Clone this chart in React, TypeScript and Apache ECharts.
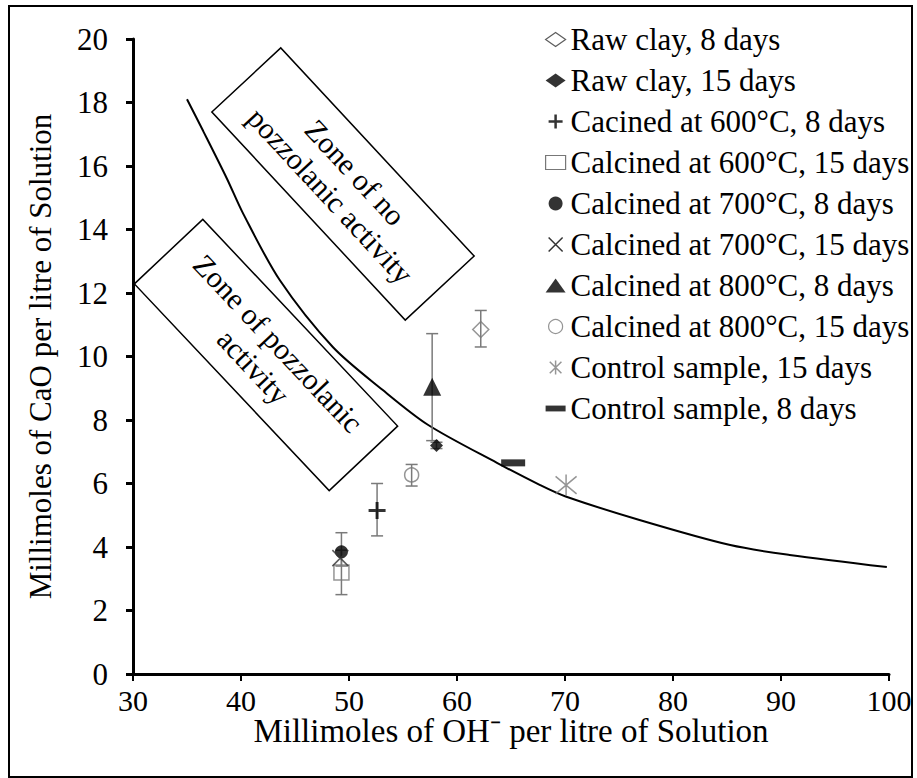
import React, { useEffect, useRef } from "react";
import * as echarts from "echarts";

// ---- data ----
const xTicks = [30, 40, 50, 60, 70, 80, 90, 100];
const yTicks = [0, 2, 4, 6, 8, 10, 12, 14, 16, 18, 20];

const curveX = [35, 36.5, 38.7, 40.2, 43.6, 48.5, 53.1, 57.3, 63.7, 67.7, 70, 76.9, 85.3, 90.8, 99.8];
const curveY = [18.1, 17.1, 15.6, 14.5, 12.4, 10.3, 8.95, 7.85, 6.65, 5.95, 5.6, 4.85, 4.06, 3.75, 3.37];

const seriesNames = [
  "Raw clay, 8 days",
  "Raw clay, 15 days",
  "Cacined at 600°C, 8 days",
  "Calcined at 600°C, 15 days",
  "Calcined at 700°C, 8 days",
  "Calcined at 700°C, 15 days",
  "Calcined at 800°C, 8 days",
  "Calcined at 800°C, 15 days",
  "Control sample, 15 days",
  "Control sample, 8 days",
];
const pointX = [62.2, 58.1, 52.6, 49.3, 49.3, 49.2, 57.7, 55.8, 70.1, 65.2];
const pointY = [10.85, 7.2, 5.15, 3.2, 3.85, 3.65, 9.05, 6.27, 5.95, 6.65];
const errLow: (number | null)[] = [10.3, 7.1, 4.35, 2.5, 3.4, null, 7.35, 5.92, null, null];
const errHigh: (number | null)[] = [11.45, 7.3, 6.0, 3.9, 4.45, null, 10.72, 6.6, null, null];

const zoneTexts = ["Zone of no\npozzolanic activity", "Zone of pozzolanic\nactivity"];

// ---- styles ----
const FONT = "Liberation Serif";
const SERIF = "serif";
const GRAY = "#7a7a7a";
const markerStyles: any[] = [
  { symbol: "diamond", size: 16, item: { color: "rgba(0,0,0,0)", borderColor: GRAY, borderWidth: 1.5 }, legend: { color: "#fff", borderColor: "#333", borderWidth: 1.2 } },
  { symbol: "diamond", size: 13, item: { color: "#000" }, legend: { color: "#000" } },
  { symbol: "path://M5,0L5,10M0,5L10,5", size: 17, item: { color: "rgba(0,0,0,0)", borderColor: "#000", borderWidth: 3 }, legend: { color: "rgba(0,0,0,0)", borderColor: "#000", borderWidth: 2.5 } },
  { symbol: "rect", size: 15, item: { color: "rgba(0,0,0,0)", borderColor: GRAY, borderWidth: 1.5 }, legend: { color: "#fff", borderColor: "#555", borderWidth: 1.2 } },
  { symbol: "circle", size: 13, item: { color: "#000" }, legend: { color: "#000" } },
  { symbol: "path://M0,0L10,10M10,0L0,10", size: 16, item: { color: "rgba(0,0,0,0)", borderColor: "#333", borderWidth: 1.5 }, legend: { color: "rgba(0,0,0,0)", borderColor: "#000", borderWidth: 1.5 } },
  { symbol: "triangle", size: 18, item: { color: "#000" }, legend: { color: "#000" } },
  { symbol: "circle", size: 14, item: { color: "rgba(0,0,0,0)", borderColor: GRAY, borderWidth: 1.5 }, legend: { color: "#fff", borderColor: GRAY, borderWidth: 1.2 } },
  { symbol: "path://M0,0L10,10M10,0L0,10M5,-1L5,11", size: 21, item: { color: "rgba(0,0,0,0)", borderColor: GRAY, borderWidth: 1.5 }, legend: { color: "rgba(0,0,0,0)", borderColor: GRAY, borderWidth: 1.5 } },
  { symbol: "path://M0,0L24,0L24,7L0,7Z", size: [24, 7], item: { color: "#000" }, legend: { color: "#000" } },
];

const zoneBoxes = [
  { cx: 343, cy: 184, rot: -0.822 },
  { cx: 266, cy: 355, rot: -0.815 },
];

export default function App() {
  const ref = useRef<HTMLDivElement>(null);
  useEffect(() => {
    if (!ref.current) return;
    const chart = echarts.init(ref.current, null, { renderer: "svg" });

    const errData = pointX
      .map((x, i) => (errLow[i] != null && errHigh[i] != null ? [x, errLow[i], errHigh[i]] : null))
      .filter((d) => d !== null);

    const scatterSeries = seriesNames.map((name, i) => ({
      name,
      type: "scatter",
      symbol: markerStyles[i].symbol,
      symbolSize: markerStyles[i].size,
      itemStyle: markerStyles[i].item,
      data: [[pointX[i], pointY[i]]],
      z: 5,
    }));

    const option: any = {
      animation: false,
      backgroundColor: "#fff",
      grid: { left: 133, right: 28, top: 39, bottom: 104 },
      xAxis: {
        type: "value",
        min: xTicks[0],
        max: xTicks[xTicks.length - 1],
        interval: 10,
        name: "Millimoles of OH⁻ per litre of Solution",
        nameLocation: "middle",
        nameGap: 40,
        nameMoveOverlap: false,
        nameTextStyle: { fontFamily: FONT, fontSize: 33, color: "#000" },
        axisLine: { lineStyle: { color: "#000", width: 3 } },
        axisTick: { show: true, inside: false, length: 7, lineStyle: { color: "#000", width: 2 } },
        axisLabel: { fontFamily: SERIF, fontSize: 30, color: "#000", margin: 11 },
        splitLine: { show: false },
      },
      yAxis: {
        type: "value",
        min: yTicks[0],
        max: yTicks[yTicks.length - 1],
        interval: 2,
        name: "Millimoles of CaO per litre of Solution",
        nameLocation: "middle",
        nameGap: 77,
        nameMoveOverlap: false,
        nameTextStyle: { fontFamily: FONT, fontSize: 31, color: "#000" },
        axisLine: { show: true, lineStyle: { color: "#000", width: 3 } },
        axisTick: { show: true, inside: false, length: 7, lineStyle: { color: "#000", width: 3 } },
        axisLabel: { fontFamily: SERIF, fontSize: 31, color: "#000", margin: 25 },
        splitLine: { show: false },
      },
      legend: {
        orient: "vertical",
        left: 540,
        top: 19,
        itemWidth: 20,
        itemHeight: 14,
        itemGap: 10,
        textStyle: { fontFamily: SERIF, fontSize: 31, color: "#000", lineHeight: 31 },
        data: seriesNames.map((name, i) => ({
          name,
          icon: markerStyles[i].symbol,
          itemStyle: markerStyles[i].legend,
        })),
        selectedMode: false,
      },
      graphic: [
        {
          type: "rect",
          shape: { x: 9, y: 6, width: 903, height: 771 },
          style: { fill: "none", stroke: "#000", lineWidth: 2 },
          z: 100,
        },
        ...zoneBoxes.map((b, i) => ({
          type: "group",
          x: b.cx,
          y: b.cy,
          rotation: b.rot,
          z: 50,
          children: [
            {
              type: "rect",
              shape: { x: -142, y: -47, width: 284, height: 94 },
              style: { fill: "#fff", stroke: "#000", lineWidth: 1.5 },
            },
            {
              type: "text",
              x: 0,
              y: 0,
              style: {
                text: zoneTexts[i],
                fontFamily: FONT,
                fontSize: 30,
                fill: "#000",
                textAlign: "center",
                textVerticalAlign: "middle",
                lineHeight: 34,
              },
            },
          ],
        })),
      ],
      series: [
        {
          name: "curve",
          type: "line",
          data: curveX.map((x, i) => [x, curveY[i]]),
          smooth: 0.3,
          showSymbol: false,
          symbol: "none",
          lineStyle: { color: "#000", width: 2 },
          z: 2,
        },
        {
          name: "errors",
          type: "custom",
          data: errData,
          encode: { x: 0, y: [1, 2] },
          z: 3,
          renderItem: (_params: any, api: any) => {
            const x = api.value(0);
            const lo = api.coord([x, api.value(1)]);
            const hi = api.coord([x, api.value(2)]);
            const w = 6;
            const st = { stroke: GRAY, lineWidth: 1.5 };
            return {
              type: "group",
              children: [
                { type: "line", shape: { x1: lo[0], y1: lo[1], x2: hi[0], y2: hi[1] }, style: st },
                { type: "line", shape: { x1: lo[0] - w, y1: lo[1], x2: lo[0] + w, y2: lo[1] }, style: st },
                { type: "line", shape: { x1: hi[0] - w, y1: hi[1], x2: hi[0] + w, y2: hi[1] }, style: st },
              ],
            };
          },
        },
        ...scatterSeries,
      ],
    };
    chart.setOption(option);
    return () => chart.dispose();
  }, []);

  return (
    <div
      ref={ref}
      style={{ position: "fixed", left: 0, top: 0, width: 917, height: 778, background: "#fff" }}
    />
  );
}
